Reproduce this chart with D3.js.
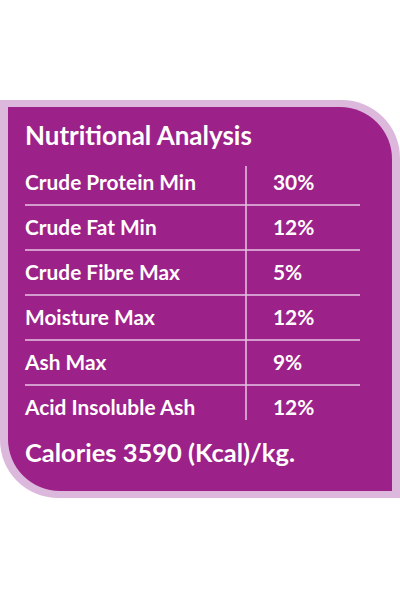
<!DOCTYPE html><html><head><meta charset="utf-8">
<script src="https://cdn.jsdelivr.net/npm/d3@7"></script>
<style>body{margin:0;background:#fff}svg{display:block}</style></head><body>
<script>
const title = "Nutritional Analysis";
const nutrients = ["Crude Protein Min","Crude Fat Min","Crude Fibre Max","Moisture Max","Ash Max","Acid Insoluble Ash"];
const values = [30, 12, 5, 12, 9, 12];
const footer = "Calories 3590 (Kcal)/kg.";

const svg = d3.select("body").append("svg").attr("width",400).attr("height",600);
function shape(x0,y0,x1,y1,r){
  const p=d3.path();
  p.moveTo(x0,y0); p.lineTo(x1-r,y0); p.arcTo(x1,y0,x1,y0+r,r); p.lineTo(x1,y1);
  p.lineTo(x0+r,y1); p.arcTo(x0,y1,x0,y1-r,r); p.closePath(); return p.toString();
}
svg.append("path").attr("d",shape(0,100,400,498,58)).attr("fill","#dcb9dc");
svg.append("path").attr("d",shape(8,107,392,491,52)).attr("fill","#9c2189");
const font="Lato, sans-serif";
function fit(sel,target){ // scale font size so first text width matches target
  const n=sel.node(); const w=n.getComputedTextLength(); const fs=+sel.attr("font-size");
  return fs*target/w;
}
const t=svg.append("text").attr("x",25).attr("y",145).attr("fill","#fff").attr("font-family",font)
  .attr("font-weight",700).attr("font-size",21).text(title);
const tfs=fit(t,227); t.attr("font-size",tfs);
const y = d3.scaleBand().domain(nutrients).range([160,430]);
const g = svg.selectAll("g.row").data(nutrients).join("g").attr("class","row");
const labels=g.append("text").attr("x",25).attr("y",d=>y(d)+y.bandwidth()/2+7).attr("fill","#fff")
  .attr("font-family",font).attr("font-weight",700).attr("font-size",16.5).text(d=>d);
const rfs=fit(labels.filter((d,i)=>i===0),171);
labels.attr("font-size",rfs);
g.append("text").attr("x",273).attr("y",d=>y(d)+y.bandwidth()/2+7).attr("fill","#fff")
  .attr("font-family",font).attr("font-weight",700).attr("font-size",rfs).text((d,i)=>values[i]+"%");
g.filter((d,i)=>i<nutrients.length-1).append("line").attr("x1",25).attr("x2",360)
  .attr("y1",d=>y(d)+y.bandwidth()).attr("y2",d=>y(d)+y.bandwidth()).attr("stroke","#e6c6e3").attr("stroke-width",1.5);
svg.append("line").attr("x1",246).attr("x2",246).attr("y1",166).attr("y2",420).attr("stroke","#e6c6e3").attr("stroke-width",1.5);
const f=svg.append("text").attr("x",25).attr("y",462).attr("fill","#fff").attr("font-family",font)
  .attr("font-weight",700).attr("font-size",24).text(footer);
f.attr("font-size",fit(f,270));
</script></body></html>
